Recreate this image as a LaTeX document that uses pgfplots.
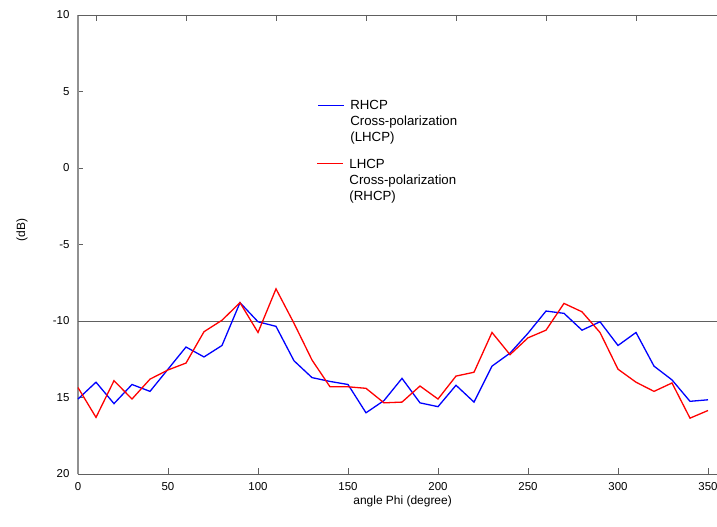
\documentclass[border=0pt]{standalone}
\usepackage{fontspec}
\setmainfont{Liberation Sans}
\usepackage{pgfplots}
\pgfplotsset{compat=1.18}
\definecolor{axgray}{HTML}{606060}
\definecolor{lgray}{HTML}{909090}
\definecolor{myred}{RGB}{255,0,0}
\definecolor{myblue}{RGB}{0,0,255}
\begin{document}
\begin{tikzpicture}
\path[use as bounding box] (-78bp,-53bp) rectangle (639bp,474bp);
\begin{axis}[
  scale only axis, width=639bp, height=459bp,
  xmin=0, xmax=355, ymin=-20, ymax=10,
  axis x line*=bottom, axis y line*=left,
  x axis line style={axgray, line width=0.9bp},
  y axis line style={lgray, line width=1.3bp},
  tick align=inside,
  xtick={0,50,...,350},
  ytick={-20,-15,...,10},
  yticklabels={20,15,-10,-5,0,5,10},
  x tick style={axgray, line width=0.8bp, /pgfplots/major tick length=6bp},
  y tick style={axgray, line width=0.8bp, /pgfplots/major tick length=5bp},
  tick label style={font=\fontsize{11.5}{14}\selectfont},
  /pgf/number format/assume math mode=true,
  xticklabel style={yshift=-5bp},
  yticklabel style={xshift=-5bp},
  xlabel={angle Phi (degree)},
  ylabel={(dB)},
  label style={font=\fontsize{12}{14}\selectfont},
  xlabel style={at={(axis description cs:0.508,-0.059)}, anchor=center},
  ylabel style={at={(axis description cs:-0.0876,0.531)}, anchor=center},
  clip=false,
]
\addplot[axgray, line width=0.9bp, forget plot] coordinates {(0,-10) (355,-10)};
\addplot[myblue, line width=1.3bp] coordinates {
(0,-15.1) (10,-14.0) (20,-15.4) (30,-14.15) (40,-14.6) (50,-13.15)
(60,-11.7) (70,-12.35) (80,-11.6) (90,-8.8) (100,-10.05) (110,-10.35)
(120,-12.6) (130,-13.7) (140,-13.95) (150,-14.15) (160,-16.0) (170,-15.2)
(180,-13.75) (190,-15.35) (200,-15.6) (210,-14.2) (220,-15.3) (230,-12.95)
(240,-12.1) (250,-10.8) (260,-9.35) (270,-9.5) (280,-10.6) (290,-10.05)
(300,-11.6) (310,-10.75) (320,-12.95) (330,-13.85) (340,-15.25) (350,-15.15)
};
\addplot[myred, line width=1.3bp] coordinates {
(0,-14.35) (10,-16.3) (20,-13.9) (30,-15.1) (40,-13.8) (50,-13.2)
(60,-12.75) (70,-10.7) (80,-9.95) (90,-8.8) (100,-10.75) (110,-7.9)
(120,-10.15) (130,-12.55) (140,-14.3) (150,-14.3) (160,-14.4) (170,-15.35)
(180,-15.3) (190,-14.25) (200,-15.1) (210,-13.6) (220,-13.35) (230,-10.75)
(240,-12.2) (250,-11.1) (260,-10.6) (270,-8.85) (280,-9.4) (290,-10.75)
(300,-13.15) (310,-14.0) (320,-14.6) (330,-14.05) (340,-16.35) (350,-15.85)
};
\coordinate (lb) at (axis cs:133.3,4.1);
\coordinate (lr) at (axis cs:132.7,0.29);
\coordinate (tb) at (axis cs:151.2,3.82);
\coordinate (tr) at (axis cs:150.7,-0.04);
\end{axis}
\begin{axis}[
  scale only axis, width=639bp, height=459bp,
  xmin=0, xmax=355, ymin=-20, ymax=10,
  axis x line*=top, axis y line=none,
  x axis line style={axgray, line width=0.9bp},
  tick align=inside,
  xtick={10,60,...,310}, xticklabels={},
  ytick=\empty,
  x tick style={axgray, line width=0.8bp, /pgfplots/major tick length=6bp},
]
\end{axis}
\fill[myblue] ([yshift=-0.7bp]lb) rectangle ([yshift=0.7bp,xshift=26bp]lb);
\fill[myred] ([yshift=-0.7bp]lr) rectangle ([yshift=0.7bp,xshift=26bp]lr);
\begin{scope}[every node/.style={anchor=base west, inner sep=0pt, font=\fontsize{13.3}{16}\selectfont}]
\node at (tb) {RHCP};
\node at ([yshift=-16bp]tb) {Cross-polarization};
\node at ([yshift=-32bp]tb) {(LHCP)};
\node at (tr) {LHCP};
\node at ([yshift=-16bp]tr) {Cross-polarization};
\node at ([yshift=-32bp]tr) {(RHCP)};
\end{scope}
\end{tikzpicture}
\end{document}
